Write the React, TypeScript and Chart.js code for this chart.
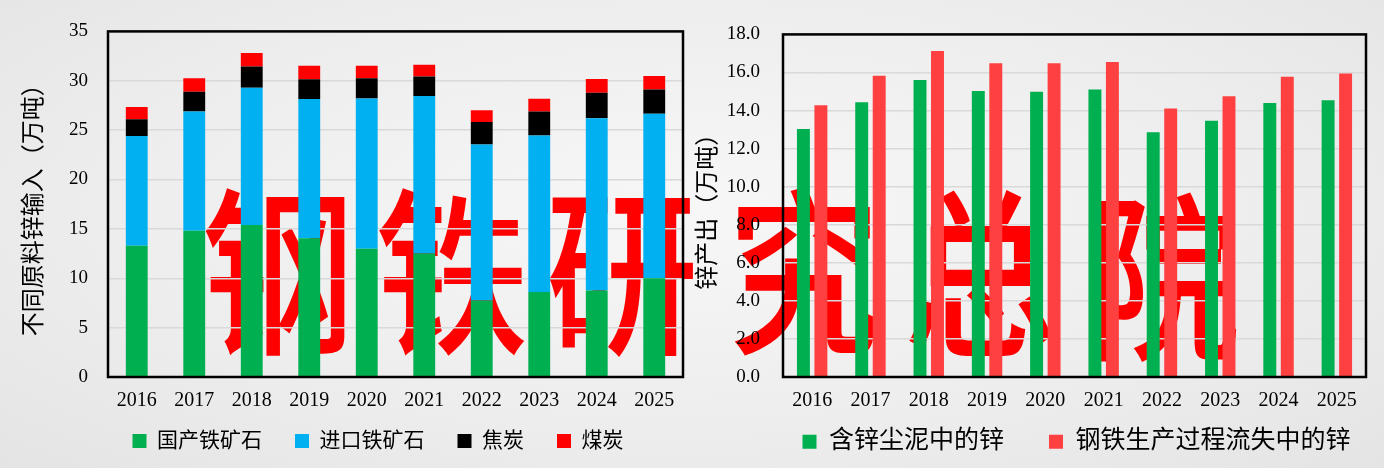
import { useEffect, useRef } from 'react';
import { Chart, registerables } from 'chart.js';

Chart.register(...registerables);

const years = ['2016', '2017', '2018', '2019', '2020', '2021', '2022', '2023', '2024', '2025'];

// zinc input by raw material (10k t)
const domesticOre = [13.3, 14.8, 15.4, 14.05, 13.0, 12.5, 7.75, 8.6, 8.75, 10.0];
const importedOre = [11.1, 12.1, 13.9, 14.1, 15.2, 15.95, 15.8, 15.85, 17.45, 16.65];
const coke = [1.7, 2.0, 2.15, 2.0, 2.05, 1.97, 2.27, 2.45, 2.58, 2.47];
const coal = [1.25, 1.35, 1.35, 1.37, 1.27, 1.2, 1.2, 1.27, 1.4, 1.37];

// zinc output (10k t)
const dustZinc = [13.03, 14.44, 15.6, 15.02, 14.99, 15.1, 12.86, 13.46, 14.39, 14.54];
const lostZinc = [14.28, 15.83, 17.13, 16.48, 16.48, 16.55, 14.11, 14.75, 15.78, 15.95];

const inputTicks = [0, 5, 10, 15, 20, 25, 30, 35];
const outputTicks = [0, 2, 4, 6, 8, 10, 12, 14, 16, 18];

const inputNames = ['国产铁矿石', '进口铁矿石', '焦炭', '煤炭'];
const outputNames = ['含锌尘泥中的锌', '钢铁生产过程流失中的锌'];

const FONT = "'Liberation Serif', 'Noto Sans CJK SC', serif";

const watermark = [
  { ch: '钢', x: 278, y: 262 },
  { ch: '铁', x: 452, y: 262 },
  { ch: '研', x: 622, y: 262 },
  { ch: '究', x: 804, y: 262 },
  { ch: '总', x: 980, y: 264 },
  { ch: '院', x: 1164, y: 268 },
];

const framePlugin = {
  id: 'frame',
  afterDatasetsDraw(chart: any) {
    const { ctx, chartArea: a } = chart;
    ctx.save();
    ctx.strokeStyle = '#000';
    ctx.lineWidth = 2.5;
    ctx.strokeRect(a.left, a.top, a.right - a.left, a.bottom - a.top);
    ctx.restore();
  },
};

function yAxis(ticks: number[], title: string, width: number, titlePad: number, pad: number, digits: number) {
  return {
    position: 'left',
    min: ticks[0],
    max: ticks[ticks.length - 1],
    afterBuildTicks: (s: any) => {
      s.ticks = ticks.map((v) => ({ value: v }));
    },
    afterFit: (s: any) => {
      s.width = width;
    },
    grid: { color: '#d9d9d9', lineWidth: 1.5, drawTicks: false },
    border: { display: false },
    ticks: {
      color: '#000',
      padding: pad,
      font: { family: FONT, size: 19 },
      callback: (v: any) => Number(v).toFixed(digits),
    },
    title: {
      display: true,
      text: title,
      color: '#000',
      padding: { top: titlePad, bottom: 0 },
      font: { family: FONT, size: 24 },
    },
  };
}

// mirrored ticks are not clipped to the (short) axis box; the negative padding
// pushes them back below the plot so the legend keeps its own place
function xAxis(height: number) {
  return {
    grid: { display: false },
    border: { display: false },
    afterFit: (s: any) => {
      s.height = height;
    },
    ticks: { color: '#000', mirror: true, padding: -36, font: { family: FONT, size: 20 } },
  };
}

function spacer(width: number) {
  return {
    position: 'right',
    display: true,
    grid: { display: false },
    border: { display: false },
    ticks: { display: false },
    afterFit: (s: any) => {
      s.width = width;
    },
  };
}

function InputChart() {
  const ref = useRef<HTMLCanvasElement | null>(null);
  useEffect(() => {
    if (!ref.current) return;
    const series = [domesticOre, importedOre, coke, coal];
    const colors = ['#00b050', '#00b0f0', '#000000', '#ff0000'];
    const chart = new Chart(ref.current, {
      type: 'bar',
      data: {
        labels: years,
        datasets: series.map((d, i) => ({
          label: inputNames[i],
          data: d,
          backgroundColor: colors[i],
          barPercentage: 0.38,
          categoryPercentage: 1,
        })),
      },
      options: {
        animation: false,
        responsive: true,
        maintainAspectRatio: false,
        layout: { padding: { top: 28, bottom: 6.5, left: 0, right: 0 } },
        scales: {
          x: { ...xAxis(20.5), stacked: true },
          y: { ...yAxis(inputTicks, '不同原料锌输入（万吨）', 108, 20, 20, 0), stacked: true },
          pad: spacer(73),
        } as any,
        plugins: {
          legend: {
            position: 'bottom',
            labels: {
              boxWidth: 14,
              boxHeight: 14,
              padding: 33,
              color: '#000',
              font: { family: FONT, size: 21 },
            },
          },
          tooltip: { enabled: false },
        },
      },
      plugins: [framePlugin],
    });
    return () => chart.destroy();
  }, []);
  return (
    <div style={{ position: 'absolute', left: 0, top: 0, width: 756, height: 468 }}>
      <canvas ref={ref}></canvas>
    </div>
  );
}

function OutputChart() {
  const ref = useRef<HTMLCanvasElement | null>(null);
  useEffect(() => {
    if (!ref.current) return;
    const series = [dustZinc, lostZinc];
    const colors = ['#00b050', '#ff4040'];
    const chart = new Chart(ref.current, {
      type: 'bar',
      data: {
        labels: years,
        datasets: series.map((d, i) => ({
          label: outputNames[i],
          data: d,
          backgroundColor: colors[i],
          barPercentage: 0.74,
          categoryPercentage: 0.6,
        })),
      },
      options: {
        animation: false,
        responsive: true,
        maintainAspectRatio: false,
        layout: { padding: { top: 27, bottom: 3.8, left: 0, right: 0 } },
        scales: {
          x: xAxis(7.2),
          y: yAxis(outputTicks, '锌产出（万吨）', 93, 4, 23, 1),
          pad: spacer(97),
        } as any,
        plugins: {
          legend: {
            position: 'bottom',
            labels: {
              boxWidth: 14,
              boxHeight: 14,
              padding: 45,
              color: '#000',
              font: { family: FONT, size: 25 },
            },
          },
          tooltip: { enabled: false },
        },
      },
      plugins: [framePlugin],
    });
    return () => chart.destroy();
  }, []);
  return (
    <div style={{ position: 'absolute', left: 690, top: 0, width: 773, height: 468 }}>
      <canvas ref={ref}></canvas>
    </div>
  );
}

export default function App() {
  return (
    <div
      style={{
        position: 'absolute',
        left: 0,
        top: 0,
        width: 1384,
        height: 468,
        overflow: 'hidden',
        background: 'radial-gradient(ellipse at 50% 45%, #f7f7f7 0%, #ededed 60%, #e4e4e4 100%)',
      }}
    >
      {watermark.map((w) => (
        <div
          key={w.ch}
          style={{
            position: 'absolute',
            left: w.x,
            top: w.y,
            transform: 'translate(-50%, -50%) scaleX(0.85)',
            fontFamily: "'Noto Sans CJK SC', sans-serif",
            fontSize: 180,
            fontWeight: 500,
            lineHeight: 1,
            color: '#ff0000',
          }}
        >
          {w.ch}
        </div>
      ))}
      <InputChart />
      <OutputChart />
    </div>
  );
}
